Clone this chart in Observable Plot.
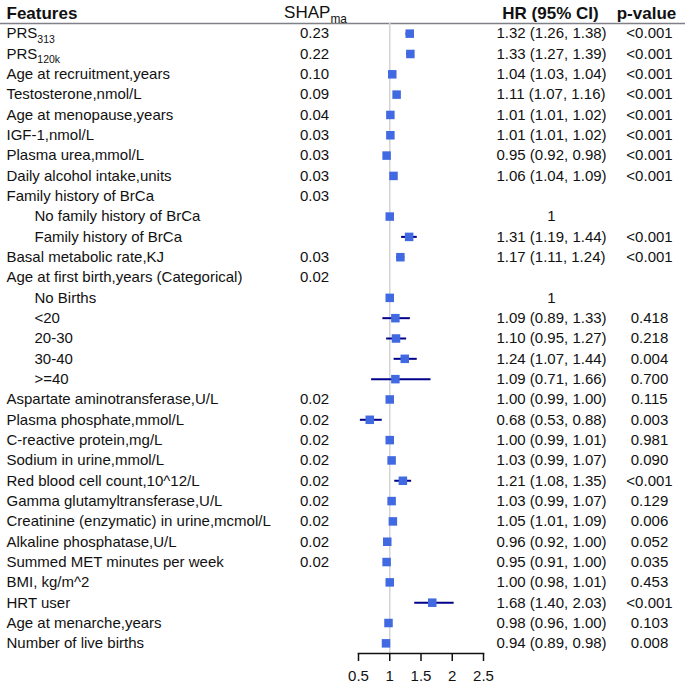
<!DOCTYPE html>
<html>
<head>
<meta charset="utf-8">
<script src="https://cdn.jsdelivr.net/npm/d3@7"></script>
<script src="https://cdn.jsdelivr.net/npm/@observablehq/plot@0.6"></script>
<style>
  html, body { margin: 0; padding: 0; background: #fff; }
  #chart svg { display: block; }
</style>
</head>
<body>
<div id="chart"></div>
<script>
// ---- data ----
const features = [
  "PRS_313", "PRS_120k", "Age at recruitment,years", "Testosterone,nmol/L",
  "Age at menopause,years", "IGF-1,nmol/L", "Plasma urea,mmol/L", "Daily alcohol intake,units",
  "Family history of BrCa", "No family history of BrCa", "Family history of BrCa",
  "Basal metabolic rate,KJ", "Age at first birth,years (Categorical)", "No Births",
  "<20", "20-30", "30-40", ">=40",
  "Aspartate aminotransferase,U/L", "Plasma phosphate,mmol/L", "C-reactive protein,mg/L",
  "Sodium in urine,mmol/L", "Red blood cell count,10^12/L", "Gamma glutamyltransferase,U/L",
  "Creatinine (enzymatic) in urine,mcmol/L", "Alkaline phosphatase,U/L",
  "Summed MET minutes per week", "BMI, kg/m^2", "HRT user", "Age at menarche,years",
  "Number of live births"
];
const level = [0,0,0,0,0,0,0,0,0,1,1,0,0,1,1,1,1,1,0,0,0,0,0,0,0,0,0,0,0,0,0];
const shap = ["0.23","0.22","0.10","0.09","0.04","0.03","0.03","0.03","0.03",null,null,"0.03","0.02",null,
  null,null,null,null,"0.02","0.02","0.02","0.02","0.02","0.02","0.02","0.02","0.02",null,null,null,null];
const isRef = [0,0,0,0,0,0,0,0,0,1,0,0,0,1,0,0,0,0,0,0,0,0,0,0,0,0,0,0,0,0,0];
const hr = [1.32,1.33,1.04,1.11,1.01,1.01,0.95,1.06,null,1,1.31,1.17,null,1,
  1.09,1.10,1.24,1.09,1.00,0.68,1.00,1.03,1.21,1.03,1.05,0.96,0.95,1.00,1.68,0.98,0.94];
const lo = [1.26,1.27,1.03,1.07,1.01,1.01,0.92,1.04,null,null,1.19,1.11,null,null,
  0.89,0.95,1.07,0.71,0.99,0.53,0.99,0.99,1.08,0.99,1.01,0.92,0.91,0.98,1.40,0.96,0.89];
const hi = [1.38,1.39,1.04,1.16,1.02,1.02,0.98,1.09,null,null,1.44,1.24,null,null,
  1.33,1.27,1.44,1.66,1.00,0.88,1.01,1.07,1.35,1.07,1.09,1.00,1.00,1.01,2.03,1.00,0.98];
const pval = ["<0.001","<0.001","<0.001","<0.001","<0.001","<0.001","<0.001","<0.001",null,null,"<0.001","<0.001",null,null,
  "0.418","0.218","0.004","0.700","0.115","0.003","0.981","0.090","<0.001","0.129","0.006","0.052","0.035","0.453","<0.001","0.103","0.008"];
const xTicks = [0.5, 1, 1.5, 2, 2.5];
const headers = {feature: "Features", shap: "SHAP_ma", hr: "HR (95% CI)", p: "p-value"};

const rows = features.map((f, i) => ({
  i, feature: f, level: level[i], shap: shap[i], hr: hr[i], lo: lo[i], hi: hi[i], p: pval[i], ref: isRef[i],
  hrLabel: hr[i] == null ? null : (isRef[i] ? "1" : `${hr[i].toFixed(2)} (${lo[i].toFixed(2)}, ${hi[i].toFixed(2)})`)
}));

const W = 685, H = 692;
const mL = 358, mR = 202, mT = 23, mB = 39;
const fs = 15;

const plot = Plot.plot({
  width: W, height: H,
  marginLeft: mL, marginRight: mR, marginTop: mT, marginBottom: mB,
  style: {fontFamily: "'Liberation Sans', Arial, sans-serif", fontSize: fs + "px", color: "#111", background: "#fff"},
  x: {domain: [0.5, 2.5], axis: null},
  y: {type: "point", domain: rows.map(d => d.i), padding: 0.5, round: false, axis: null},
  marks: [
    Plot.frame({anchor: "top", stroke: "#7f8088", strokeWidth: 1.5, insetLeft: -mL, insetRight: -mR}),
    Plot.ruleX([1], {stroke: "#d4d4d4", strokeWidth: 1.5}),
    Plot.frame({anchor: "bottom", stroke: "#111", strokeWidth: 1.5}),
    Plot.axisX({ticks: xTicks, tickFormat: d => String(d), tickSize: 8, tickPadding: 9, strokeWidth: 1.5, fontSize: 15, label: null, anchor: "bottom"}),
    Plot.ruleY(rows.filter(d => d.lo != null), {y: "i", x1: "lo", x2: "hi", stroke: "#00008b", strokeWidth: 2}),
    Plot.dot(rows.filter(d => d.hr != null), {x: "hr", y: "i", symbol: "square", r: 4.8, fill: "#4169e1", stroke: null}),
    // text columns
    Plot.text(rows.filter(d => d.level === 0), {y: "i", text: "feature", frameAnchor: "left", dx: 6 - mL, textAnchor: "start", fontSize: fs}),
    Plot.text(rows.filter(d => d.level === 1), {y: "i", text: "feature", frameAnchor: "left", dx: 34 - mL, textAnchor: "start", fontSize: fs}),
    Plot.text(rows.filter(d => d.shap != null), {y: "i", text: "shap", frameAnchor: "left", dx: 314 - mL, textAnchor: "middle", fontSize: fs}),
    Plot.text(rows.filter(d => d.hrLabel != null && !d.ref), {y: "i", text: "hrLabel", frameAnchor: "left", dx: 496 - mL, textAnchor: "start", fontSize: fs}),
    Plot.text(rows.filter(d => d.ref), {y: "i", text: "hrLabel", frameAnchor: "left", dx: 551 - mL, textAnchor: "middle", fontSize: fs}),
    Plot.text(rows.filter(d => d.p != null), {y: "i", text: "p", frameAnchor: "left", dx: 649 - mL, textAnchor: "middle", fontSize: fs}),
    // headers
    Plot.text([headers.feature], {frameAnchor: "top-left", lineAnchor: "middle", dx: 6 - mL, dy: -10, textAnchor: "start", fontWeight: "bold", fontSize: 17}),
    Plot.text([headers.shap], {frameAnchor: "top-left", lineAnchor: "middle", dx: 315 - mL, dy: -11, textAnchor: "middle", fontSize: 17}),
    Plot.text([headers.hr], {frameAnchor: "top-left", lineAnchor: "middle", dx: 550 - mL, dy: -10, textAnchor: "middle", fontWeight: "bold", fontSize: 17}),
    Plot.text([headers.p], {frameAnchor: "top-left", lineAnchor: "middle", dx: 646 - mL, dy: -10, textAnchor: "middle", fontWeight: "bold", fontSize: 17})
  ]
});

// subscripts: "BASE_sub" -> BASE<sub>
d3.select(plot).selectAll("text").each(function () {
  const el = d3.select(this);
  if (this.querySelector("tspan")) return;
  const t = this.textContent;
  const k = t.indexOf("_");
  if (k < 0) return;
  el.text(null);
  el.append("tspan").text(t.slice(0, k));
  el.append("tspan").attr("dy", "0.4em").attr("font-size", "0.7em").text(t.slice(k + 1));
});

document.getElementById("chart").append(plot);
</script>
</body>
</html>
